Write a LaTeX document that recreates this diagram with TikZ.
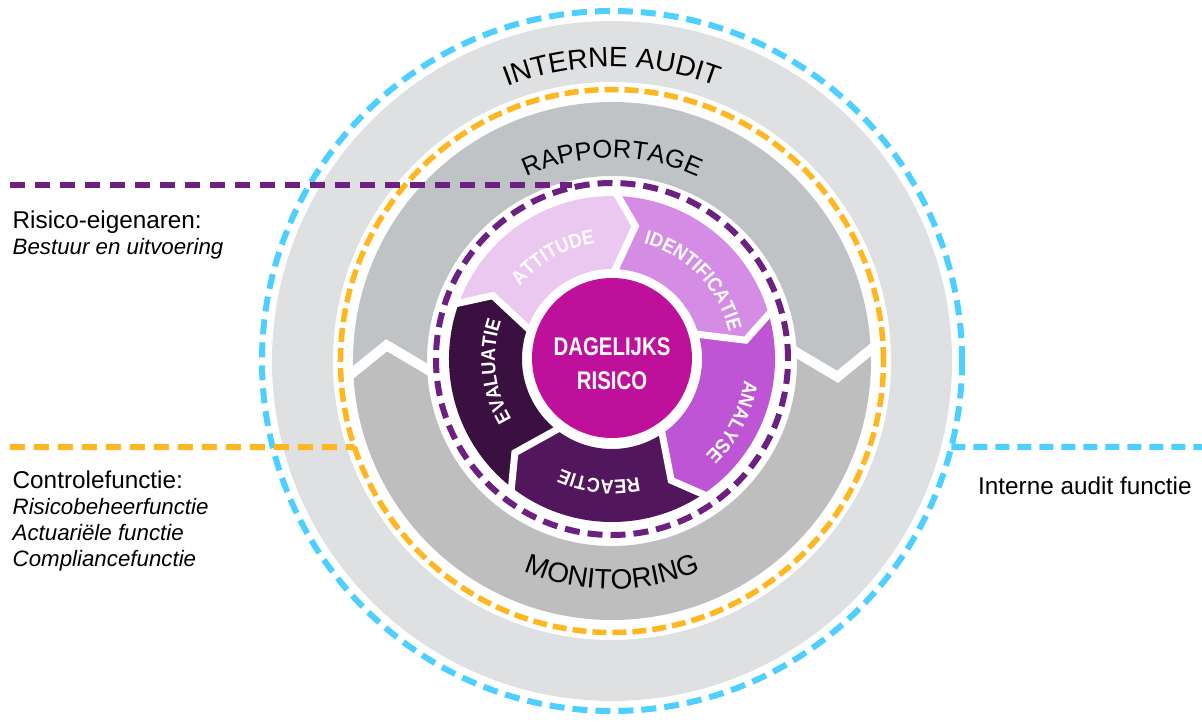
\documentclass[tikz,border=0pt]{standalone}
\usepackage{fontspec}
\setmainfont{Liberation Sans}
\newfontfamily\ringfont{Liberation Sans}
\newfontfamily\segfont[FakeStretch=0.9]{Liberation Sans}
\newfontfamily\dailyfont[FakeStretch=0.8]{Liberation Sans}
\usetikzlibrary{decorations.text}

\definecolor{auditblue}{RGB}{77,207,255}
\definecolor{controlorange}{RGB}{254,183,33}
\definecolor{ownerpurple}{RGB}{108,32,128}
\definecolor{outergray}{RGB}{222,224,226}
\definecolor{reportgray}{RGB}{192,195,198}
\definecolor{monitorgray}{RGB}{190,190,190}
\definecolor{attitudecol}{RGB}{235,200,240}
\definecolor{identcol}{RGB}{212,140,228}
\definecolor{analysecol}{RGB}{190,85,212}
\definecolor{reactiecol}{RGB}{82,22,92}
\definecolor{evalcol}{RGB}{58,16,64}
\definecolor{dailycol}{RGB}{191,16,155}

\begin{document}
\begin{tikzpicture}[x=1pt,y=1pt,
	dashring/.style={line width=6pt,dash pattern=on 15pt off 8pt},
	gapline/.style={white,line width=#1,line join=miter},
	arclabel/.style={decorate,decoration={text along path,text align=center,text color=#1}},
	sidetext/.style={anchor=base west,inner sep=0pt,font=\fontsize{24.3}{26}\selectfont}]
	\useasboundingbox (-612,-360) rectangle (590,361);

	\draw[auditblue,dashring] (0,0) circle[radius=350];
	\fill[outergray] (0,0) circle[radius=340];
	\fill[white] (0,0) circle[radius=279];
	\draw[controlorange,dashring,line width=5.5pt,dash pattern=on 14pt off 6pt] (0,0) circle[radius=271.5];

	\fill[reportgray] (183:259) arc[start angle=183,end angle=3,radius=259] -- (-4:226) -- (3:185) arc[start angle=3,end angle=183,radius=185] -- (176:226) -- cycle;
	\fill[monitorgray] (363:259) arc[start angle=363,end angle=183,radius=259] -- (176:226) -- (183:185) arc[start angle=183,end angle=363,radius=185] -- (356:226) -- cycle;
	\draw[gapline=10pt] (183.3:264) -- (176:226) -- (183.2:182);
	\draw[gapline=10pt] (3.3:264) -- (-4:226) -- (3.2:182);

	\begin{scope}[yshift=2]
		\draw[ownerpurple,dashring] (0,0) circle[radius=176];

		\fill[attitudecol] (160:163) arc[start angle=160,end angle=88,radius=163] -- (80:135) -- (88:90) arc[start angle=88,end angle=160,radius=90] -- (152:135) -- cycle;
		\fill[identcol] (88:163) arc[start angle=88,end angle=16,radius=163] -- (8:135) -- (16:90) arc[start angle=16,end angle=88,radius=90] -- (80:135) -- cycle;
		\fill[analysecol] (16:163) arc[start angle=16,end angle=-56,radius=163] -- (-64:135) -- (-56:90) arc[start angle=-56,end angle=16,radius=90] -- (8:135) -- cycle;
		\fill[reactiecol] (-56:163) arc[start angle=-56,end angle=-128,radius=163] -- (-136:135) -- (-128:90) arc[start angle=-128,end angle=-56,radius=90] -- (-64:135) -- cycle;
		\fill[evalcol] (-128:163) arc[start angle=-128,end angle=-200,radius=163] -- (-208:135) -- (-200:90) arc[start angle=-200,end angle=-128,radius=90] -- (-136:135) -- cycle;

		\draw[gapline=7pt] (89:168) -- (80:135) -- (89:86);
		\draw[gapline=7pt] (17:168) -- (8:135) -- (17:86);
		\draw[gapline=7pt] (-55:168) -- (-64:135) -- (-55:86);
		\draw[gapline=7pt] (-127:168) -- (-136:135) -- (-127:86);
		\draw[gapline=7pt] (161:168) -- (152:135) -- (161:86);

		\path[arclabel=white,decoration={text={|\segfont\bfseries\fontsize{20}{20}\selectfont|ATTITUDE}}] (160:117) arc[start angle=160,end angle=80,radius=117];
		\path[arclabel=white,decoration={text={|\segfont\bfseries\fontsize{20}{20}\selectfont|IDENTIFICATIE}}] (89:120) arc[start angle=89,end angle=-1,radius=120];
		\path[arclabel=white,decoration={text={|\segfont\bfseries\fontsize{20}{20}\selectfont|ANALYSE}}] (12.5:134) arc[start angle=12.5,end angle=-67.5,radius=134];
		\path[arclabel=white,decoration={text={|\segfont\bfseries\fontsize{20}{20}\selectfont|REACTIE}}] (-56:121) arc[start angle=-56,end angle=-136,radius=121];
		\path[arclabel=white,decoration={text={|\segfont\bfseries\fontsize{20}{20}\selectfont|EVALUATIE}}] (226:117) arc[start angle=226,end angle=146,radius=117];

		\node (daily) [circle,fill=dailycol,minimum size=160pt,inner sep=0pt] at (0,1) {};
		\node (dailytext) [text=white,align=center,font=\dailyfont\bfseries\fontsize{25.5}{34}\selectfont] at ([yshift=-6pt]daily.center) {DAGELIJKS\\RISICO};
	\end{scope}

	\path[arclabel=black,decoration={text={|\ringfont\fontsize{28}{28}\selectfont|INTERNE AUDIT}}] (135:294) arc[start angle=135,end angle=45,radius=294];
	\path[arclabel=black,decoration={text={|\ringfont\fontsize{25.5}{25.5}\selectfont|RAPPORTAGE}}] (140:203) arc[start angle=140,end angle=40,radius=203];
	\path[arclabel=black,decoration={text={|\ringfont\fontsize{28}{28}\selectfont|MONITORING}}] (-140:228) arc[start angle=-140,end angle=-40,radius=228];

	\coordinate (ownerstart) at (-602,176);
	\coordinate (ownerend) at (-40,176);
	\coordinate (controlstart) at (-602,-86);
	\coordinate (controlend) at (198.5:271.5);
	\coordinate (auditstart) at (-14.2:350);
	\coordinate (auditend) at (590,-86);
	\draw[ownerpurple,line width=6pt,dash pattern=on 15pt off 10pt] (ownerstart) -- (ownerend);
	\draw[controlorange,line width=6pt,dash pattern=on 15pt off 9pt] (controlstart) -- (controlend);
	\draw[auditblue,line width=6pt,dash pattern=on 14pt off 8pt] (auditstart) -- (auditend);

	\node (owners) [sidetext] at (-599.5,133) {\begin{tabular}[t]{@{}l@{}}Risico-eigenaren:\\\fontsize{22.3}{25}\selectfont\itshape Bestuur en uitvoering\end{tabular}};
	\node (control) [sidetext] at (-599.5,-127) {\begin{tabular}[t]{@{}l@{}}Controlefunctie:\\\fontsize{22.3}{26}\selectfont\itshape Risicobeheerfunctie\\\fontsize{22.3}{26}\selectfont\itshape Actuariële functie\\\fontsize{22.3}{26}\selectfont\itshape Compliancefunctie\end{tabular}};
	\node (auditors) [sidetext] at (366,-133) {Interne audit functie};
\end{tikzpicture}
\end{document}
